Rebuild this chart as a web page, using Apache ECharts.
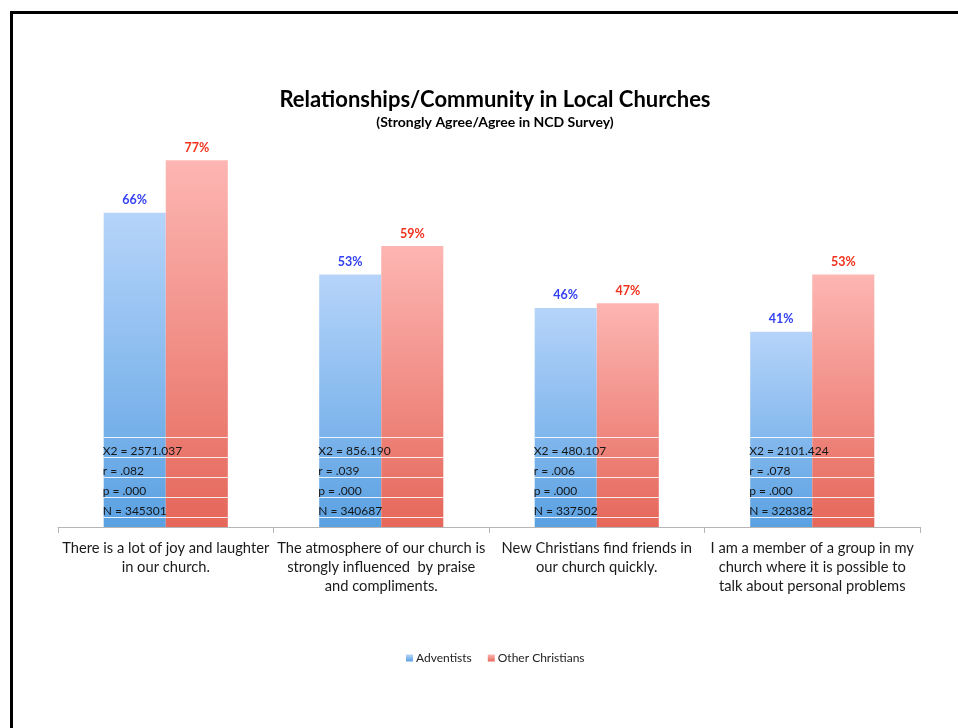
<!DOCTYPE html>
<html>
<head>
<meta charset="utf-8">
<script src="https://cdn.jsdelivr.net/npm/echarts@6/dist/echarts.min.js"></script>
<style>
  html, body { margin: 0; padding: 0; background: #fff; }
  #chart { width: 958px; height: 728px; }
</style>
</head>
<body>
<div id="chart"></div>
<script>
// Survey statements (x axis categories)
const categories = [
  'There is a lot of joy and laughter\nin our church.',
  'The atmosphere of our church is\nstrongly influenced  by praise\nand compliments.',
  'New Christians find friends in\nour church quickly.',
  'I am a member of a group in my\nchurch where it is possible to\ntalk about personal problems'
];
// Percent who strongly agree / agree
const adventists = [66, 53, 46, 41];
const otherChristians = [77, 59, 47, 53];
// Test statistics for each statement
const chiSquare = ['2571.037', '856.190', '480.107', '2101.424'];
const rValues = ['.082', '.039', '.006', '.078'];
const pValues = ['.000', '.000', '.000', '.000'];
const nValues = ['345301', '340687', '337502', '328382'];

const FONT = 'Lato, "Open Sans", sans-serif';
const BAR_FRACTION = 0.288;

const blueFill = new echarts.graphic.LinearGradient(0, 0, 0, 1, [
  { offset: 0, color: '#b6d4fa' },
  { offset: 1, color: '#5aa1e2' }
]);
const redFill = new echarts.graphic.LinearGradient(0, 0, 0, 1, [
  { offset: 0, color: '#fdb6b3' },
  { offset: 1, color: '#e5675a' }
]);

// Stats block drawn at the foot of each bar pair
function renderStats(params, api) {
  const idx = api.value(0);
  const base = api.coord([idx, 0]);
  const band = api.size([1, 0])[0];
  const barW = band * BAR_FRACTION;
  const left = base[0] - barW;
  const y0 = base[1];
  const children = [];
  for (let k = 0; k < 5; k++) {
    const y = Math.round(y0 - 10 - 20 * k) + 0.5;
    children.push({
      type: 'line',
      shape: { x1: left, y1: y, x2: left + 2 * barW, y2: y },
      style: { stroke: 'rgba(255,255,255,0.85)', lineWidth: 1 }
    });
  }
  const rows = [
    'N = ' + nValues[idx],
    'p = ' + pValues[idx],
    'r = ' + rValues[idx],
    'X2 = ' + chiSquare[idx]
  ];
  rows.forEach((t, k) => {
    children.push({
      type: 'text',
      style: {
        text: t,
        x: left - 1,
        y: y0 - 16 - 20 * k,
        fill: '#161616',
        font: '12px ' + FONT,
        textAlign: 'left',
        textVerticalAlign: 'middle'
      }
    });
  });
  return { type: 'group', children };
}

const chart = echarts.init(document.getElementById('chart'));
chart.setOption({
  animation: false,
  backgroundColor: '#fff',
  textStyle: { fontFamily: FONT },
  graphic: [{
    type: 'rect',
    shape: { x: 11.5, y: 12.5, width: 1000, height: 800 },
    style: { fill: 'none', stroke: '#000', lineWidth: 3 },
    silent: true
  }],
  title: {
    text: 'Relationships/Community in Local Churches',
    subtext: '(Strongly Agree/Agree in NCD Survey)',
    left: 490,
    top: 84,
    textAlign: 'center',
    itemGap: 4,
    textStyle: { fontFamily: FONT, fontSize: 22, fontWeight: 'bold', color: '#000' },
    subtextStyle: { fontFamily: FONT, fontSize: 14, fontWeight: 'bold', color: '#000' }
  },
  legend: {
    data: ['Adventists', 'Other Christians'],
    left: 401,
    top: 647,
    itemWidth: 7,
    itemHeight: 7,
    itemGap: 16,
    icon: 'rect',
    textStyle: { fontFamily: FONT, fontSize: 12, color: '#222', padding: [0, 0, 0, -2] }
  },
  grid: { left: 58, right: 38, top: 146, bottom: 201 },
  xAxis: {
    type: 'category',
    data: categories,
    axisLine: { lineStyle: { color: '#b5b5b5' } },
    axisTick: { show: true, length: 6, lineStyle: { color: '#b5b5b5' } },
    axisLabel: {
      color: '#1a1a1a',
      fontFamily: FONT,
      fontSize: 14.7,
      lineHeight: 19,
      margin: 12,
      interval: 0
    }
  },
  yAxis: {
    type: 'value',
    min: 0,
    max: 80,
    show: false,
    splitLine: { show: false }
  },
  series: [
    {
      name: 'Adventists',
      type: 'bar',
      data: adventists,
      barWidth: (BAR_FRACTION * 100) + '%',
      barGap: '0%',
      itemStyle: { color: blueFill },
      label: {
        show: true,
        position: 'top',
        distance: 6,
        formatter: '{c}%',
        color: '#3341f2',
        fontWeight: 'bold',
        fontSize: 12.5,
        fontFamily: FONT
      }
    },
    {
      name: 'Other Christians',
      type: 'bar',
      data: otherChristians,
      barWidth: (BAR_FRACTION * 100) + '%',
      barGap: '0%',
      itemStyle: { color: redFill },
      label: {
        show: true,
        position: 'top',
        distance: 6,
        formatter: '{c}%',
        color: '#f2311d',
        fontWeight: 'bold',
        fontSize: 12.5,
        fontFamily: FONT
      }
    },
    {
      name: 'stats',
      type: 'custom',
      renderItem: renderStats,
      data: categories.map((c, i) => [i]),
      z: 5,
      silent: true
    }
  ],
  color: ['#5aa1e2', '#e5675a']
});
</script>
</body>
</html>
